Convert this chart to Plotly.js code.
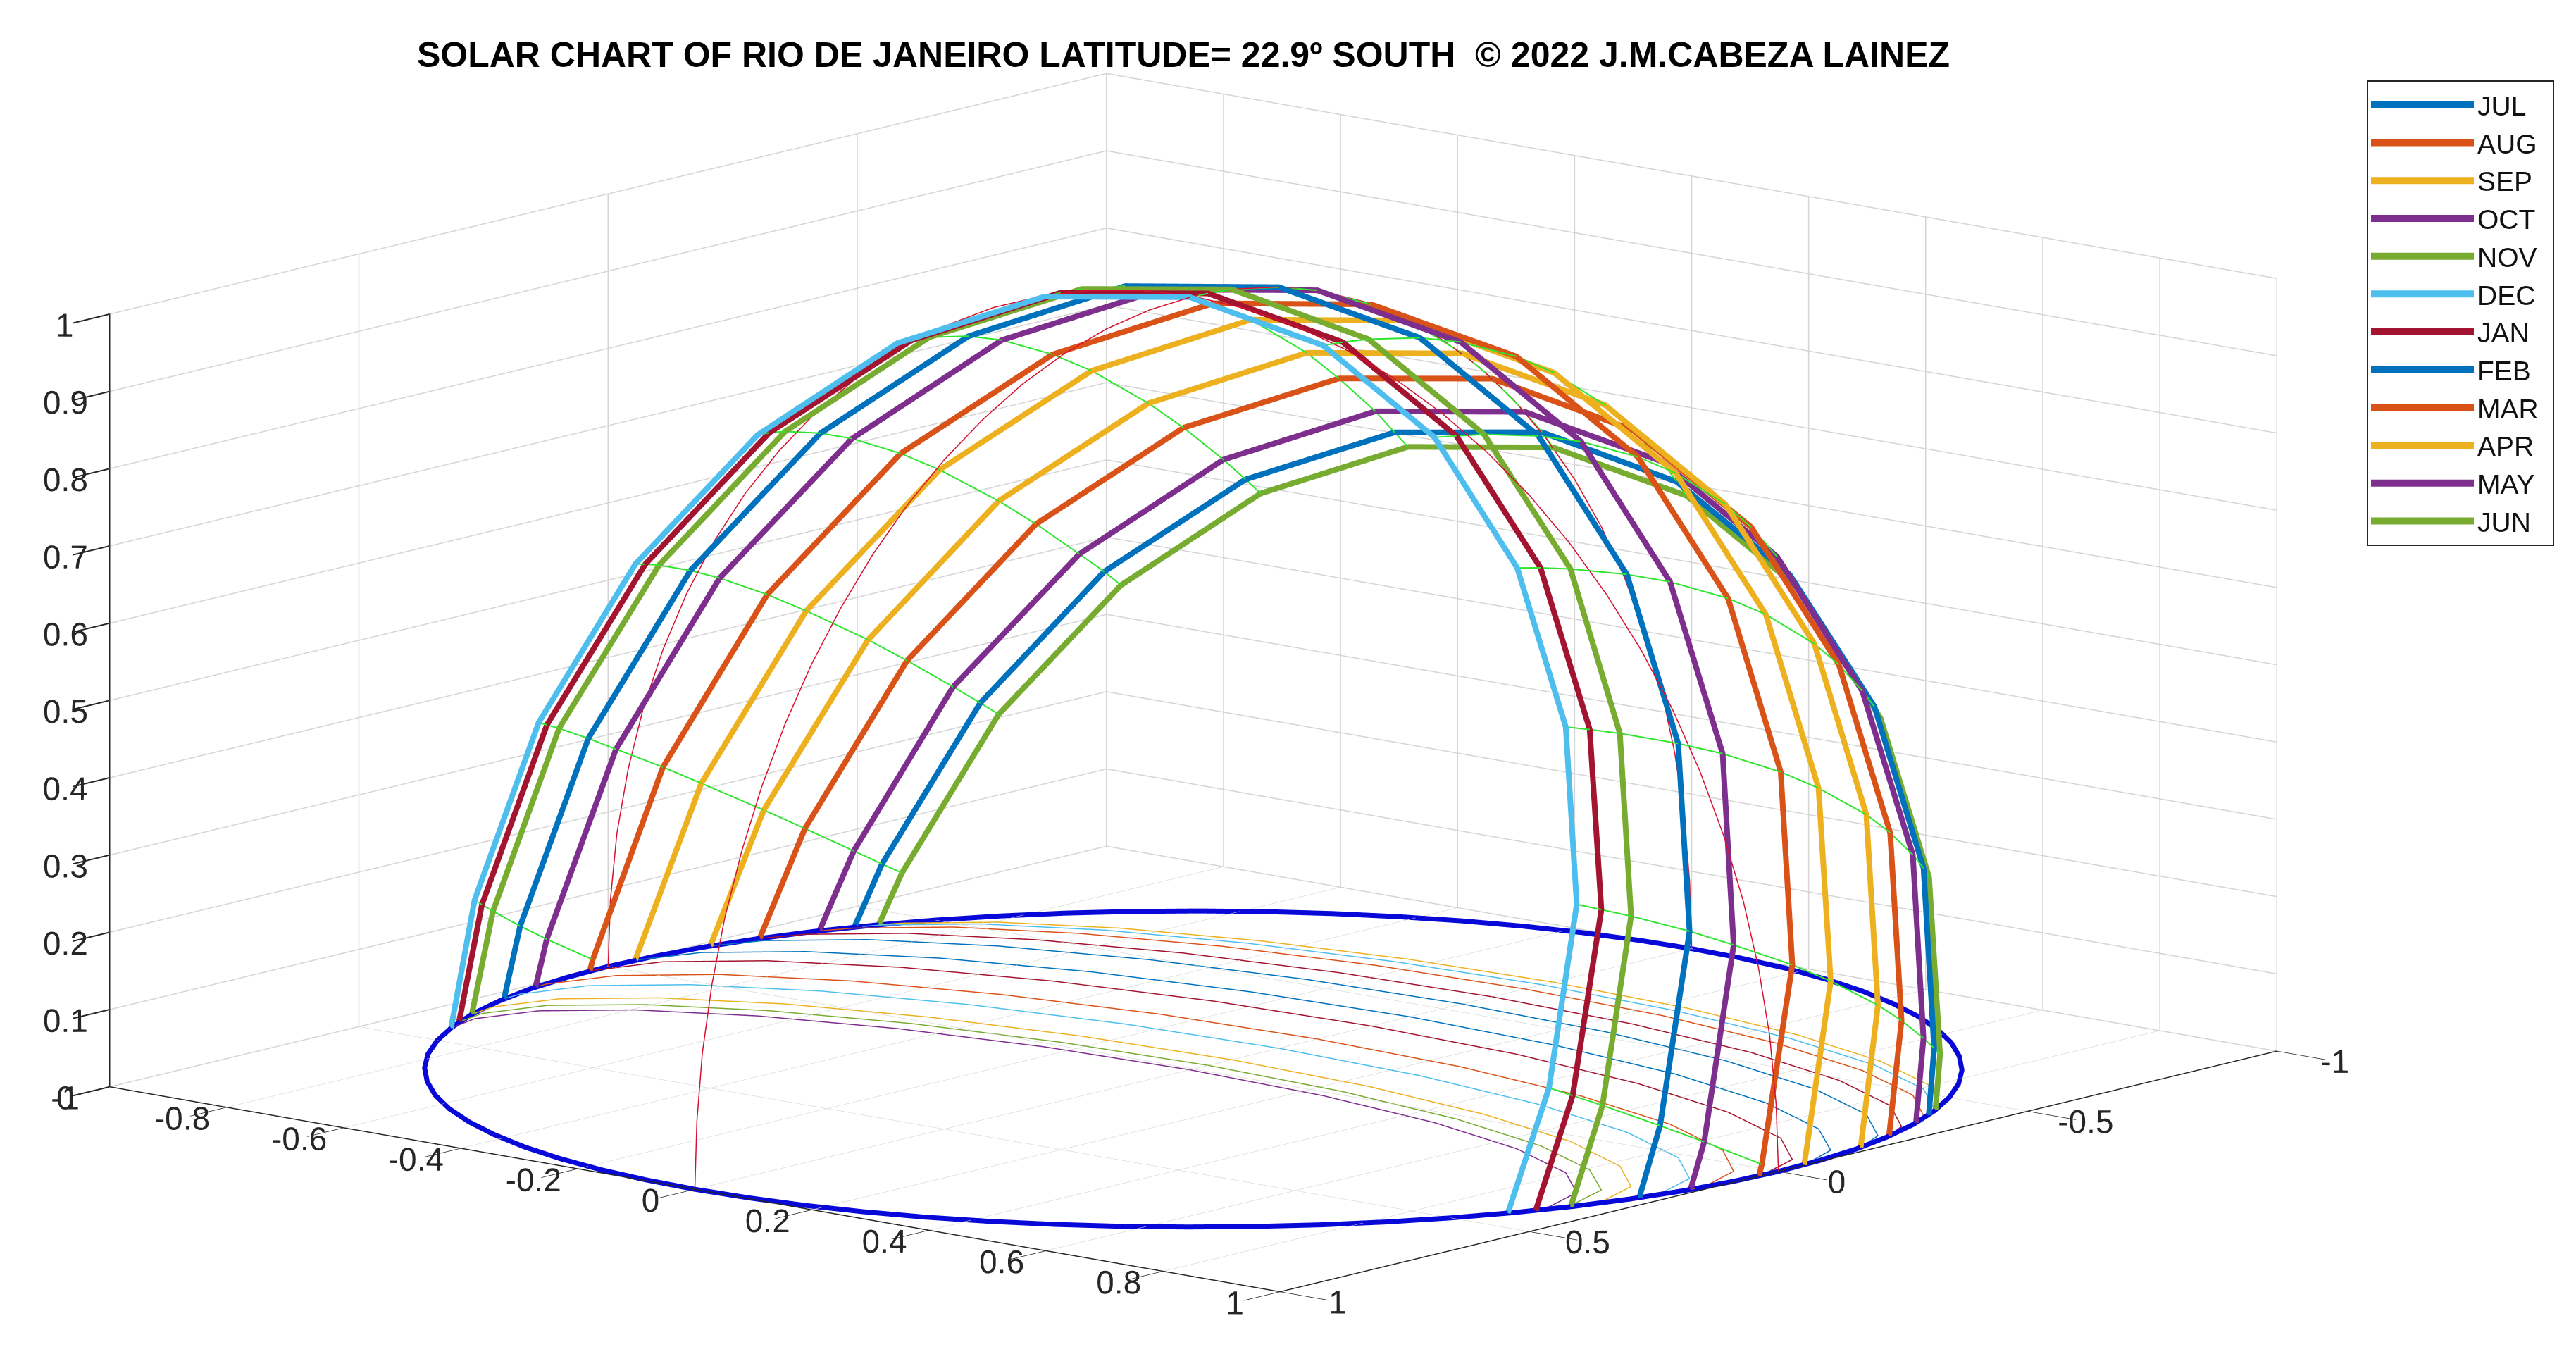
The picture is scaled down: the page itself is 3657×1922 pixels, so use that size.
<!DOCTYPE html>
<html><head><meta charset="utf-8">
<script src="https://cdn.plot.ly/plotly-3.0.1.min.js"></script>
<style>html,body{margin:0;padding:0;background:#fff}#c{width:3657px;height:1922px}</style>
</head><body><div id="c"></div>
<script>
var MONTHS=['JUL','AUG','SEP','OCT','NOV','DEC','JAN','FEB','MAR','APR','MAY','JUN'];
var THICK_COLORS=['#0072BD','#D95319','#EDB120','#7E2F8E','#77AC30','#4DBEEE','#A2142F','#0072BD','#D95319','#EDB120','#7E2F8E','#77AC30'];
var THIN_COLORS=['#4DBEEE','#A2142F','#0072BD','#D95319','#EDB120','#7E2F8E','#77AC30','#4DBEEE','#A2142F','#0072BD','#D95319','#EDB120'];

var JUL_X=[-.918,-.899,-.806,-.658,-.465,-.241,0,.241,.465,.658,.806,.899,.918];
var JUL_Y=[-.398,-.431,-.519,-.594,-.651,-.687,-.700,-.687,-.651,-.594,-.519,-.431,-.398];
var JUL_Z=[0,.079,.286,.464,.600,.685,.715,.685,.600,.464,.286,.079,0];
var AUG_X=[-.965,-.937,-.840,-.686,-.485,-.251,0,.251,.485,.686,.840,.937,.965];
var AUG_Y=[-.263,-.321,-.412,-.490,-.550,-.587,-.600,-.587,-.550,-.490,-.412,-.321,-.263];
var AUG_Z=[0,.137,.353,.538,.680,.769,.800,.769,.680,.538,.353,.137,0];
var SEP_X=[-.999,-.965,-.865,-.706,-.499,-.259,0,.259,.499,.706,.865,.965,.999];
var SEP_Y=[-.053,-.146,-.239,-.320,-.382,-.420,-.434,-.420,-.382,-.320,-.239,-.146,-.053];
var SEP_Z=[0,.219,.441,.632,.778,.870,.901,.870,.778,.632,.441,.219,0];
var OCT_X=[-.987,-.989,-.955,-.857,-.699,-.495,-.256,0,.256,.495,.699,.857,.955,.989,.987];
var OCT_Y=[.161,.136,.037,-.056,-.136,-.197,-.236,-.249,-.236,-.197,-.136,-.056,.037,.136,.161];
var OCT_Z=[0,.058,.293,.513,.702,.847,.938,.969,.938,.847,.702,.513,.293,.058,0];
var NOV_X=[-.939,-.948,-.916,-.821,-.671,-.474,-.245,0,.245,.474,.671,.821,.916,.948,.939];
var NOV_Y=[.345,.292,.197,.108,.031,-.027,-.064,-.077,-.064,-.027,.031,.108,.197,.292,.345];
var NOV_Z=[0,.124,.350,.560,.741,.880,.967,.997,.967,.880,.741,.560,.350,.124,0];
var DEC_X=[-.903,-.918,-.887,-.795,-.649,-.459,-.238,0,.238,.459,.649,.795,.887,.918,.903];
var DEC_Y=[.429,.364,.272,.186,.112,.055,.019,.007,.019,.055,.112,.186,.272,.364,.429];
var DEC_Z=[0,.154,.373,.577,.752,.887,.971,1,.971,.887,.752,.577,.373,.154,0];
var JAN_X=[-.920,-.932,-.901,-.807,-.659,-.466,-.241,0,.241,.466,.659,.807,.901,.932,.920];
var JAN_Y=[.393,.333,.239,.152,.077,.019,-.017,-.030,-.017,.019,.077,.152,.239,.333,.393];
var JAN_Z=[0,.141,.363,.570,.748,.884,.970,.999,.970,.884,.748,.570,.363,.141,0];
var FEB_X=[-.970,-.974,-.941,-.844,-.689,-.487,-.252,0,.252,.487,.689,.844,.941,.974,.970];
var FEB_Y=[.244,.207,.109,.018,-.061,-.121,-.159,-.172,-.159,-.121,-.061,.018,.109,.207,.244];
var FEB_Z=[0,.088,.320,.536,.722,.865,.955,.985,.955,.865,.722,.536,.320,.088,0];
var MAR_X=[-.999,-.999,-.965,-.866,-.707,-.500,-.259,0,.259,.500,.707,.866,.965,.999,.999];
var MAR_Y=[.038,.032,-.069,-.162,-.243,-.305,-.344,-.357,-.344,-.305,-.243,-.162,-.069,.032,.038];
var MAR_Z=[0,.014,.252,.474,.665,.811,.903,.934,.903,.811,.665,.474,.252,.014,0];
var APR_X=[-.983,-.952,-.853,-.697,-.493,-.255,0,.255,.493,.697,.853,.952,.983];
var APR_Y=[-.185,-.256,-.349,-.428,-.489,-.527,-.540,-.527,-.489,-.428,-.349,-.256,-.185];
var APR_Z=[0,.169,.388,.576,.720,.811,.842,.811,.720,.576,.388,.169,0];
var MAY_X=[-.937,-.914,-.820,-.669,-.473,-.245,0,.245,.473,.669,.820,.914,.937];
var MAY_Y=[-.350,-.392,-.481,-.557,-.616,-.653,-.665,-.653,-.616,-.557,-.481,-.392,-.350];
var MAY_Z=[0,.100,.311,.491,.630,.717,.747,.717,.630,.491,.311,.100,0];
var JUN_X=[-.903,-.887,-.795,-.649,-.459,-.238,0,.238,.459,.649,.795,.887,.903];
var JUN_Y=[-.429,-.457,-.543,-.617,-.674,-.710,-.722,-.710,-.674,-.617,-.543,-.457,-.429];
var JUN_Z=[0,.065,.269,.444,.579,.663,.692,.663,.579,.444,.269,.065,0];

var ARC_C=[1,.996,.985,.966,.940,.906,.866,.819,.766,.707,.643,.574,.5,.423,.342,.259,.174,.087,0,-.087,-.174,-.259,-.342,-.423,-.5,-.574,-.643,-.707,-.766,-.819,-.866,-.906,-.940,-.966,-.985,-.996,-1];
var ARC_S=[0,.087,.174,.259,.342,.423,.5,.574,.643,.707,.766,.819,.866,.906,.940,.966,.985,.996,1,.996,.985,.966,.940,.906,.866,.819,.766,.707,.643,.574,.5,.423,.342,.259,.174,.087,0];
var CIRCLE_X=[1,.996,.985,.966,.940,.906,.866,.819,.766,.707,.643,.574,.5,.423,.342,.259,.174,.087,0,-.087,-.174,-.259,-.342,-.423,-.5,-.574,-.643,-.707,-.766,-.819,-.866,-.906,-.940,-.966,-.985,-.996,-1,-.996,-.985,-.966,-.940,-.906,-.866,-.819,-.766,-.707,-.643,-.574,-.5,-.423,-.342,-.259,-.174,-.087,0,.087,.174,.259,.342,.423,.5,.574,.643,.707,.766,.819,.866,.906,.940,.966,.985,.996,1];
var CIRCLE_Y=[0,.087,.174,.259,.342,.423,.5,.574,.643,.707,.766,.819,.866,.906,.940,.966,.985,.996,1,.996,.985,.966,.940,.906,.866,.819,.766,.707,.643,.574,.5,.423,.342,.259,.174,.087,0,-.087,-.174,-.259,-.342,-.423,-.5,-.574,-.643,-.707,-.766,-.819,-.866,-.906,-.940,-.966,-.985,-.996,-1,-.996,-.985,-.966,-.940,-.906,-.866,-.819,-.766,-.707,-.643,-.574,-.5,-.423,-.342,-.259,-.174,-.087,0];

var X_TICKS=[-1,-.8,-.6,-.4,-.2,0,.2,.4,.6,.8,1];
var X_LABELS=['-1','-0.8','-0.6','-0.4','-0.2','0','0.2','0.4','0.6','0.8','1'];
var Y_TICKS=[-1,-.5,0,.5,1];
var Y_LABELS=['-1','-0.5','0','0.5','1'];
var Z_TICKS=[0,.1,.2,.3,.4,.5,.6,.7,.8,.9,1];
var Z_LABELS=['0','0.1','0.2','0.3','0.4','0.5','0.6','0.7','0.8','0.9','1'];

var PATHS=[[JUL_X,JUL_Y,JUL_Z],[AUG_X,AUG_Y,AUG_Z],[SEP_X,SEP_Y,SEP_Z],[OCT_X,OCT_Y,OCT_Z],[NOV_X,NOV_Y,NOV_Z],[DEC_X,DEC_Y,DEC_Z],[JAN_X,JAN_Y,JAN_Z],[FEB_X,FEB_Y,FEB_Z],[MAR_X,MAR_Y,MAR_Z],[APR_X,APR_Y,APR_Z],[MAY_X,MAY_Y,MAY_Z],[JUN_X,JUN_Y,JUN_Z]];
// months from southernmost to northernmost path, the order the hour lines follow
var HOUR_ORDER=[5,6,4,7,3,8,2,9,1,10,0,11];

var traces=[];
PATHS.forEach(function(p,i){
  traces.push({type:'scatter3d',mode:'lines',name:MONTHS[i],x:p[0],y:p[1],z:p[2],showlegend:true,hoverinfo:'skip',
    line:{color:THICK_COLORS[i],width:16}});
});
PATHS.forEach(function(p,i){
  traces.push({type:'scatter3d',mode:'lines',x:p[0],y:p[1],z:p[0].map(function(){return 0;}),showlegend:false,hoverinfo:'skip',
    line:{color:THIN_COLORS[i],width:3}});
});
[-6,-5,-4,-3,-2,-1,0,1,2,3,4,5,6].forEach(function(k){
  var xs=[],ys=[],zs=[];
  HOUR_ORDER.forEach(function(m){
    var p=PATHS[m],n=(p[0].length-1)/2;
    if(Math.abs(k)===6&&n!==7)return;
    xs.push(p[0][n+k]);ys.push(p[1][n+k]);zs.push(p[2][n+k]);
  });
  traces.push({type:'scatter3d',mode:'lines',x:xs,y:ys,z:zs,showlegend:false,hoverinfo:'skip',line:{color:'#2fe62f',width:4}});
});
traces.push({type:'scatter3d',mode:'lines',x:ARC_C,y:ARC_C.map(function(){return 0;}),z:ARC_S,showlegend:false,hoverinfo:'skip',line:{color:'#d81030',width:3}});
traces.push({type:'scatter3d',mode:'lines',x:ARC_C.map(function(){return 0;}),y:ARC_C,z:ARC_S,showlegend:false,hoverinfo:'skip',line:{color:'#d81030',width:3}});
traces.push({type:'scatter3d',mode:'lines',x:CIRCLE_X,y:CIRCLE_Y,z:CIRCLE_X.map(function(){return 0;}),showlegend:false,hoverinfo:'skip',line:{color:'#0808d8',width:14}});

var FONT='"Liberation Sans", Arial, sans-serif';
function axis(vals,labels,range,len){
  return {range:range,tickmode:'array',tickvals:vals,ticktext:labels,title:{text:''},tickangle:0,
    showbackground:false,showgrid:true,gridcolor:'#d4d4d4',gridwidth:3,zeroline:false,showspikes:false,
    showline:true,linecolor:'#262626',linewidth:3,ticks:'outside',ticklen:len,tickwidth:4,tickcolor:'#262626',
    tickfont:{family:FONT,size:23.5,color:'#262626'}};
}
var L=6;
var layout={
  width:3657,height:1922,paper_bgcolor:'#fff',margin:{l:0,r:0,t:0,b:0},showlegend:true,hovermode:false,
  title:{text:'SOLAR CHART OF RIO DE JANEIRO LATITUDE= 22.9º SOUTH  © 2022 J.M.CABEZA LAINEZ',
    font:{family:FONT,size:50,color:'#000',weight:'bold'},x:1680/3657,xanchor:'center',xref:'paper',y:1-77/1922,yanchor:'middle',yref:'container'},
  legend:{x:3361/3657,xanchor:'left',y:1-117/1922,yanchor:'top',bgcolor:'rgba(0,0,0,0)',borderwidth:0,
    font:{family:FONT,size:39,color:'#111'},itemwidth:146,traceorder:'normal'},
  shapes:[{type:'rect',xref:'paper',yref:'paper',layer:'above',x0:3361/3657,x1:3625/3657,y0:1-774/1922,y1:1-115/1922,line:{color:'#262626',width:2},fillcolor:'rgba(0,0,0,0)'}],
  scene:{domain:{x:[0,.9264],y:[0,.9917]},aspectmode:'manual',aspectratio:{x:2.29,y:2.29,z:1.176},
    xaxis:axis(X_TICKS,X_LABELS,[-1,1],90),
    yaxis:axis(Y_TICKS,Y_LABELS,[1,-1],80),
    zaxis:axis(Z_TICKS,Z_LABELS,[0,1],80),
    camera:{projection:{type:'orthographic'},up:{x:0,y:0,z:1},center:{x:0,y:0,z:0},eye:{x:.6346*L,y:-.7451*L,z:.2056*L}}}
};
Plotly.newPlot('c',traces,layout,{displayModeBar:false,staticPlot:false});
</script></body></html>
